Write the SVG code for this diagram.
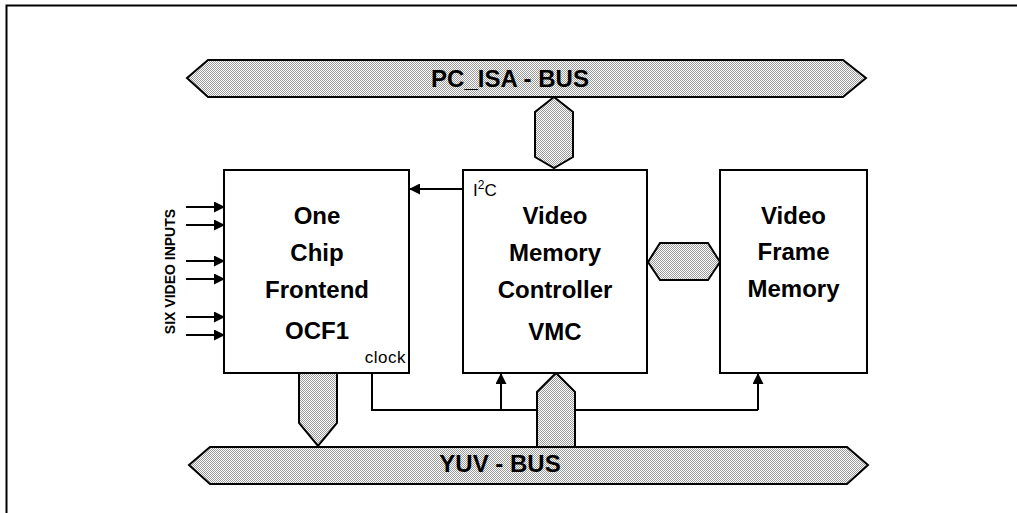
<svg xmlns="http://www.w3.org/2000/svg" width="1017" height="513" viewBox="0 0 1017 513">
<style>
.box{fill:#fff;stroke:#000;stroke-width:2}
.bus{fill:url(#dots);stroke:#000;stroke-width:2;stroke-linejoin:miter}
.lbl{font-family:"Liberation Sans",Arial,sans-serif;font-weight:bold;font-size:24px;fill:#000;text-anchor:middle}
.small{font-family:"Liberation Sans",Arial,sans-serif;font-size:17px;fill:#000}
.wire{fill:none;stroke:#000;stroke-width:2}
</style>
<defs>
<pattern id="dots" width="2" height="2" patternUnits="userSpaceOnUse">
<rect width="2" height="2" fill="#fff"/>
<rect x="0" y="0" width="1" height="1" fill="#9a9a9a"/>
<rect x="1" y="1" width="1" height="1" fill="#9a9a9a"/>
</pattern>
<marker id="arr" viewBox="0 0 10 10" refX="10" refY="5" markerWidth="11" markerHeight="11" markerUnits="userSpaceOnUse" orient="auto">
<path d="M0,0 L10,5 L0,10 Z" fill="#000"/>
</marker>
</defs>
<rect width="1017" height="513" fill="#fff"/>
<path d="M6.5,513 V5.5 H1017" fill="none" stroke="#000" stroke-width="2"/>

<g id="connectors">
<line class="wire" x1="186" y1="207" x2="225" y2="207" marker-end="url(#arr)"/>
<line class="wire" x1="186" y1="225" x2="225" y2="225" marker-end="url(#arr)"/>
<line class="wire" x1="186" y1="261" x2="225" y2="261" marker-end="url(#arr)"/>
<line class="wire" x1="186" y1="279" x2="225" y2="279" marker-end="url(#arr)"/>
<line class="wire" x1="186" y1="317" x2="225" y2="317" marker-end="url(#arr)"/>
<line class="wire" x1="186" y1="335" x2="225" y2="335" marker-end="url(#arr)"/>
<line class="wire" x1="463" y1="189" x2="409" y2="189" marker-end="url(#arr)"/>
<path class="wire" d="M372,373 V410 H758"/>
<line class="wire" x1="501" y1="410" x2="501" y2="373" marker-end="url(#arr)"/>
<line class="wire" x1="758" y1="410" x2="758" y2="373" marker-end="url(#arr)"/>
<polygon class="bus" points="554,97 573,112 573,157 554,168 535,157 535,112"/>
<polygon class="bus" points="648,262 660,243 708,243 720,262 708,280 660,280"/>
<polygon class="bus" points="299,373 337,373 337,423 318,446 299,423"/>
<polygon class="bus" points="537,447 537,392 556,373 575,392 575,447"/>
</g>

<g id="pc-isa-bus">
<polygon class="bus" points="187,78 208,60 843,60 866,78 843,97 208,97"/>
<text class="lbl" x="510" y="87">PC_ISA - BUS</text>
</g>

<g id="yuv-bus">
<polygon class="bus" points="189,465 210,447 847,447 868,465 847,484 210,484"/>
<text class="lbl" x="500" y="472">YUV - BUS</text>
</g>

<g id="ocf1">
<rect class="box" x="224" y="170" width="185" height="203"/>
<text class="lbl" x="317" y="224">One</text>
<text class="lbl" x="317" y="261">Chip</text>
<text class="lbl" x="317" y="298">Frontend</text>
<text class="lbl" x="317" y="339">OCF1</text>
<text class="small" x="406" y="363" text-anchor="end" letter-spacing="0.5">clock</text>
</g>

<g id="vmc">
<rect class="box" x="463" y="170" width="184" height="203"/>
<text class="small" x="473" y="196" font-size="18">I<tspan font-size="12" dy="-7">2</tspan><tspan dy="7">C</tspan></text>
<text class="lbl" x="555" y="224">Video</text>
<text class="lbl" x="555" y="261">Memory</text>
<text class="lbl" x="555" y="298">Controller</text>
<text class="lbl" x="555" y="340">VMC</text>
</g>

<g id="vfm">
<rect class="box" x="720" y="170" width="147" height="203"/>
<text class="lbl" x="793.5" y="224">Video</text>
<text class="lbl" x="793.5" y="260">Frame</text>
<text class="lbl" x="793.5" y="297">Memory</text>
</g>

<g id="inputs-label">
<text class="lbl" style="font-size:14px" transform="translate(175,271.5) rotate(-90)" x="0" y="0">SIX VIDEO INPUTS</text>
</g>
</svg>
